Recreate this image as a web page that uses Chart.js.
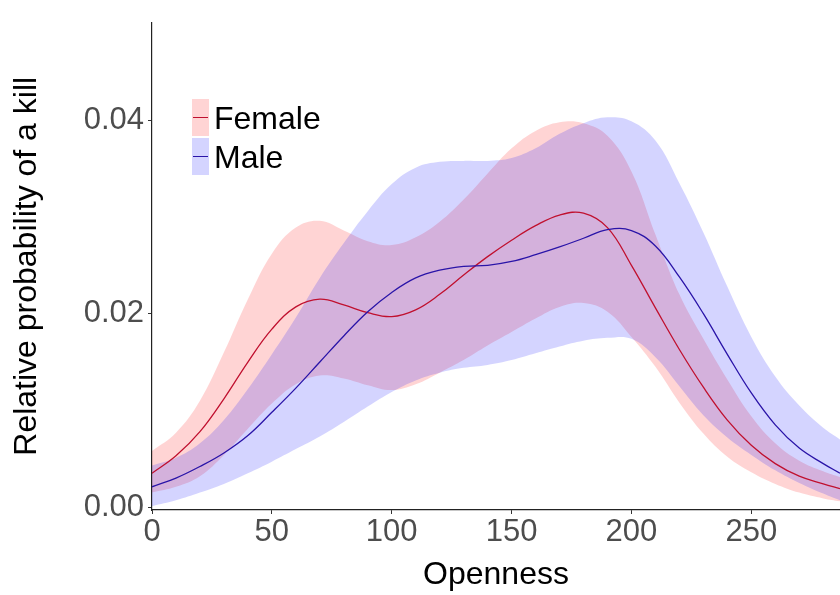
<!DOCTYPE html>
<html>
<head>
<meta charset="utf-8">
<title>Relative probability of a kill by openness</title>
<script src="https://cdn.jsdelivr.net/npm/chart.js@4.4.1/dist/chart.umd.min.js"></script>
<style>
  html, body { margin: 0; padding: 0; background: #fff; overflow: hidden; }
  #wrap { position: relative; width: 840px; height: 595px; }
  #chart { display: block; }
  .key { position: absolute; left: 192px; width: 17px; }
  .key i { position: absolute; left: 1px; right: 1px; top: 50%; height: 1.5px; margin-top: -1px; }
  .lab { position: absolute; left: 214px; height: 36px; line-height: 36px;
         font: 32px "Liberation Sans", Arial, sans-serif; color: #000; white-space: nowrap; }
</style>
</head>
<body>
<div id="wrap">
  <canvas id="chart" width="840" height="595"></canvas>
  <div class="key" style="top:99px;height:37px;background:rgba(255,0,0,0.17)"><i style="background:#c0102f"></i></div>
  <div class="lab" style="top:100px">Female</div>
  <div class="key" style="top:138px;height:37px;background:rgba(0,0,255,0.17)"><i style="background:#2a14a8"></i></div>
  <div class="lab" style="top:139px">Male</div>
</div>
<script>
// openness values where the smoothed curves are sampled
const openness = [0, 10, 20, 30, 40, 50, 60, 70, 80, 90, 100, 110, 120, 130, 140,
                  150, 160, 170, 180, 190, 200, 210, 220, 230, 240, 250, 260, 270, 280, 287];

const femaleMean = [0.0035, 0.0053, 0.0078, 0.0112, 0.0150, 0.0184, 0.0207, 0.0215, 0.0209, 0.0201,
                    0.0197, 0.0204, 0.0220, 0.0240, 0.0259, 0.0276, 0.0291, 0.0302, 0.0304, 0.0289,
                    0.0250, 0.0206, 0.0163, 0.0124, 0.0090, 0.0064, 0.0045, 0.0032, 0.0024, 0.0019];
const femaleLow  = [0.0015, 0.0021, 0.0032, 0.0054, 0.0081, 0.0107, 0.0127, 0.0136, 0.0133, 0.0126,
                    0.0121, 0.0127, 0.0139, 0.0152, 0.0167, 0.0181, 0.0195, 0.0207, 0.0211, 0.0202,
                    0.0176, 0.0145, 0.0108, 0.0076, 0.0052, 0.0036, 0.0024, 0.0015, 0.0009, 0.0006];
const femaleHigh = [0.0058, 0.0077, 0.0110, 0.0160, 0.0215, 0.0262, 0.0289, 0.0296, 0.0286, 0.0275,
                    0.0271, 0.0279, 0.0295, 0.0318, 0.0345, 0.0371, 0.0389, 0.0398, 0.0397, 0.0384,
                    0.0347, 0.0282, 0.0220, 0.0174, 0.0132, 0.0094, 0.0066, 0.0048, 0.0037, 0.0031];

const maleMean = [0.0021, 0.0030, 0.0042, 0.0056, 0.0074, 0.0098, 0.0123, 0.0150, 0.0177, 0.0202,
                  0.0222, 0.0237, 0.0245, 0.0249, 0.0250, 0.0254, 0.0261, 0.0269, 0.0278, 0.0287,
                  0.0286, 0.0270, 0.0238, 0.0200, 0.0158, 0.0118, 0.0085, 0.0061, 0.0045, 0.0035];
const maleLow  = [0.0001, 0.0007, 0.0015, 0.0024, 0.0035, 0.0047, 0.0060, 0.0073, 0.0088, 0.0104,
                  0.0119, 0.0131, 0.0139, 0.0144, 0.0147, 0.0152, 0.0159, 0.0166, 0.0172, 0.0175,
                  0.0174, 0.0155, 0.0125, 0.0095, 0.0072, 0.0054, 0.0038, 0.0025, 0.0014, 0.0007];
const maleHigh = [0.0043, 0.0051, 0.0066, 0.0090, 0.0122, 0.0158, 0.0196, 0.0237, 0.0273, 0.0306,
                  0.0334, 0.0351, 0.0357, 0.0358, 0.0358, 0.0361, 0.0371, 0.0386, 0.0397, 0.0403,
                  0.0399, 0.0379, 0.0335, 0.0284, 0.0228, 0.0176, 0.0135, 0.0105, 0.0082, 0.0070];

const xTicks = [0, 50, 100, 150, 200, 250];
const yTicks = [0, 0.02, 0.04];

const femaleLine = '#c0102f';
const maleLine = '#2a14a8';
const femaleFill = 'rgba(255, 0, 0, 0.17)';
const maleFill = 'rgba(0, 0, 255, 0.17)';

function pts(ys) {
    return openness.map((x, i) => ({ x: x, y: ys[i] }));
}

function edge(ys, order) {
    return { data: pts(ys), borderWidth: 0, pointRadius: 0, fill: false, order: order };
}

function band(ys, color, order) {
    return { data: pts(ys), borderWidth: 0, pointRadius: 0, fill: '-1', backgroundColor: color, order: order };
}

function curve(ys, color, order) {
    return { data: pts(ys), borderColor: color, borderWidth: 1.3, pointRadius: 0, fill: false, order: order };
}

const axisFont = { family: '"Liberation Sans", Arial, sans-serif', size: 31 };
const titleFont = { family: '"Liberation Sans", Arial, sans-serif', size: 32 };

const ctx = document.getElementById('chart').getContext('2d');
const chart = new Chart(ctx, {
    type: 'line',
    data: {
        datasets: [
            edge(femaleLow, 4),
            band(femaleHigh, femaleFill, 4),
            edge(maleLow, 3),
            band(maleHigh, maleFill, 3),
            curve(femaleMean, femaleLine, 2),
            curve(maleMean, maleLine, 1)
        ]
    },
    options: {
        responsive: false,
        animation: false,
        events: [],
        layout: { padding: { top: 10, right: 0, bottom: 0, left: 0 } },
        elements: { line: { tension: 0.4 } },
        plugins: {
            legend: { display: false },
            tooltip: { enabled: false },
            filler: { propagate: false }
        },
        scales: {
            x: {
                type: 'linear',
                min: 0,
                max: 287,
                afterBuildTicks: s => { s.ticks = xTicks.map(v => ({ value: v })); },
                afterFit: s => { s.height = 85; },
                border: { color: '#222', width: 1.2 },
                grid: { drawOnChartArea: false, drawTicks: true, tickLength: 4, color: '#333' },
                ticks: { font: axisFont, color: '#4d4d4d', padding: 0, maxRotation: 0 },
                title: { display: true, text: 'Openness', font: titleFont, color: '#000', padding: { top: 0, bottom: 1 } }
            },
            y: {
                type: 'linear',
                min: -0.0003,
                max: 0.0501,
                afterBuildTicks: s => { s.ticks = yTicks.map(v => ({ value: v })); },
                afterFit: s => { s.width = 152; },
                border: { color: '#222', width: 1.2 },
                grid: { drawOnChartArea: false, drawTicks: true, tickLength: 4, color: '#333' },
                ticks: { font: axisFont, color: '#4d4d4d', padding: 4, callback: v => v.toFixed(2) },
                title: { display: true, text: 'Relative probability of a kill', font: titleFont, color: '#000', padding: { top: 8, bottom: 0 } }
            }
        }
    }
});
</script>
</body>
</html>
